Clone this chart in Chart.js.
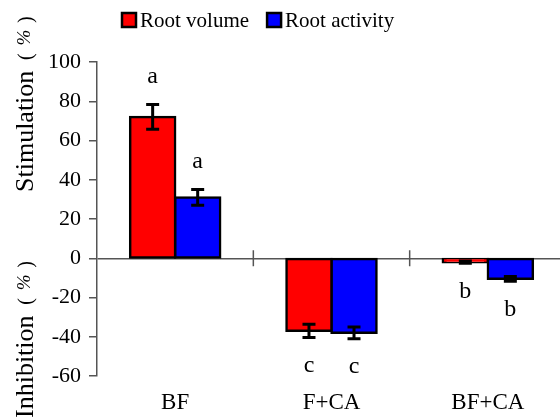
<!DOCTYPE html>
<html>
<head>
<meta charset="utf-8">
<script src="https://cdn.jsdelivr.net/npm/chart.js@4"></script>
<style>
  html, body { margin: 0; padding: 0; background: #fff; overflow: hidden; width: 560px; height: 419px; }
  canvas { display: block; }
</style>
</head>
<body>
<canvas id="c" width="590" height="419"></canvas>
<script>
const categories = ['BF', 'F+CA', 'BF+CA'];
const seriesNames = ['Root volume', 'Root activity'];
const rootVolume = [72, -37, -2];
const rootVolumeErr = [6.3, 3.4, 0.6];
const rootActivity = [31, -38, -10.5];
const rootActivityErr = [4, 3, 1.2];
const rootVolumeLetters = ['a', 'c', 'b'];
const rootActivityLetters = ['a', 'c', 'b'];
const yTicks = [-60, -40, -20, 0, 20, 40, 60, 80, 100];
const yTitleUpper = 'Stimulation';
const yTitleLower = 'Inhibition';
const yTitleUnit = ['(', '%', ')'];

const FONT = '"Liberation Serif", "Times New Roman", serif';
const AXIS_GREY = '#555555';

const errors = [rootVolumeErr, rootActivityErr];
const letters = [rootVolumeLetters, rootActivityLetters];

function drawRotatedTitle(ctx, text, baseX, startY) {
  ctx.save();
  ctx.translate(baseX, startY);
  ctx.rotate(-Math.PI / 2);
  ctx.fillStyle = '#000';
  ctx.textBaseline = 'alphabetic';
  ctx.textAlign = 'left';
  ctx.font = '26px ' + FONT;
  ctx.fillText(text, 0, 0);
  const w = ctx.measureText(text).width;
  ctx.textAlign = 'center';
  ctx.font = '20px ' + FONT;
  ctx.fillText(yTitleUnit[0], w + 14, -1);
  ctx.font = 'italic 19px ' + FONT;
  ctx.fillText(yTitleUnit[1], w + 33, -3);
  ctx.font = '20px ' + FONT;
  ctx.fillText(yTitleUnit[2], w + 51, -1);
  ctx.restore();
}

const decorPlugin = {
  id: 'decor',
  afterDatasetsDraw(chart) {
    const ctx = chart.ctx;
    const y = chart.scales.y;
    const x = chart.scales.x;
    const zeroY = y.getPixelForValue(0);
    ctx.save();
    ctx.strokeStyle = AXIS_GREY;
    ctx.lineWidth = 1.5;
    for (let i = 1; i < categories.length; i++) {
      const bx = (x.getPixelForValue(i - 1) + x.getPixelForValue(i)) / 2;
      ctx.beginPath();
      ctx.moveTo(bx, zeroY - 8);
      ctx.lineTo(bx, zeroY + 8);
      ctx.stroke();
    }
    chart.data.datasets.forEach((ds, di) => {
      const meta = chart.getDatasetMeta(di);
      meta.data.forEach((bar, i) => {
        const v = ds.data[i];
        const e = errors[di][i];
        const yHi = y.getPixelForValue(v + e);
        const yLo = y.getPixelForValue(v - e);
        const cx = bar.x;
        ctx.strokeStyle = '#000';
        ctx.lineWidth = 3;
        ctx.beginPath();
        ctx.moveTo(cx, yHi); ctx.lineTo(cx, yLo);
        ctx.moveTo(cx - 6.5, yHi); ctx.lineTo(cx + 6.5, yHi);
        ctx.moveTo(cx - 6.5, yLo); ctx.lineTo(cx + 6.5, yLo);
        ctx.stroke();
        ctx.fillStyle = '#000';
        ctx.font = '24px ' + FONT;
        ctx.textAlign = 'center';
        ctx.textBaseline = 'middle';
        const ly = v >= 0 ? yHi - 28 : yLo + 28;
        ctx.fillText(letters[di][i], cx, ly);
      });
    });
    ctx.restore();
  },
  afterDraw(chart) {
    const ctx = chart.ctx;
    ctx.save();
    ctx.font = '21px ' + FONT;
    ctx.textBaseline = 'middle';
    ctx.textAlign = 'left';
    let lx = 122;
    const ly = 20;
    chart.data.datasets.forEach((ds) => {
      ctx.fillStyle = ds.backgroundColor;
      ctx.fillRect(lx, ly - 7, 14, 14);
      ctx.strokeStyle = '#000';
      ctx.lineWidth = 2.5;
      ctx.strokeRect(lx, ly - 7, 14, 14);
      ctx.fillStyle = '#000';
      ctx.fillText(ds.label, lx + 18, ly + 1);
      lx += 18 + ctx.measureText(ds.label).width + 18;
    });
    ctx.restore();
    drawRotatedTitle(ctx, yTitleUpper, 33, 192);
    drawRotatedTitle(ctx, yTitleLower, 33, 418);
  }
};

new Chart(document.getElementById('c'), {
  type: 'bar',
  data: {
    labels: categories,
    datasets: [
      { label: seriesNames[0], data: rootVolume, backgroundColor: '#ff0000', borderColor: '#000', borderWidth: 2.5, borderSkipped: false, inflateAmount: 1.25 },
      { label: seriesNames[1], data: rootActivity, backgroundColor: '#0000ff', borderColor: '#000', borderWidth: 2.5, borderSkipped: false, inflateAmount: 1.25 }
    ]
  },
  options: {
    responsive: false,
    animation: false,
    layout: { padding: { top: 62, right: 24, left: 0, bottom: 0 } },
    plugins: { legend: { display: false }, tooltip: { enabled: false } },
    datasets: { bar: { categoryPercentage: 0.576, barPercentage: 1.0 } },
    scales: {
      x: {
        grid: { display: false, drawTicks: false },
        border: { display: false },
        ticks: { color: '#000', font: { family: FONT, size: 23 }, padding: 13 },
        afterFit(scale) { scale.height = 43; }
      },
      y: {
        min: -60, max: 100,
        afterBuildTicks(scale) { scale.ticks = yTicks.map(v => ({ value: v })); },
        grid: {
          drawOnChartArea: true,
          color: (c) => (c.tick && c.tick.value === 0) ? AXIS_GREY : 'rgba(0,0,0,0)',
          lineWidth: 1.5,
          tickColor: AXIS_GREY,
          tickLength: 8,
          drawTicks: true
        },
        border: { display: true, color: AXIS_GREY, width: 1.5 },
        ticks: { color: '#000', font: { family: FONT, size: 22 }, padding: 8 },
        afterFit(scale) { scale.width = 97; }
      }
    }
  },
  plugins: [decorPlugin]
});
</script>
</body>
</html>
